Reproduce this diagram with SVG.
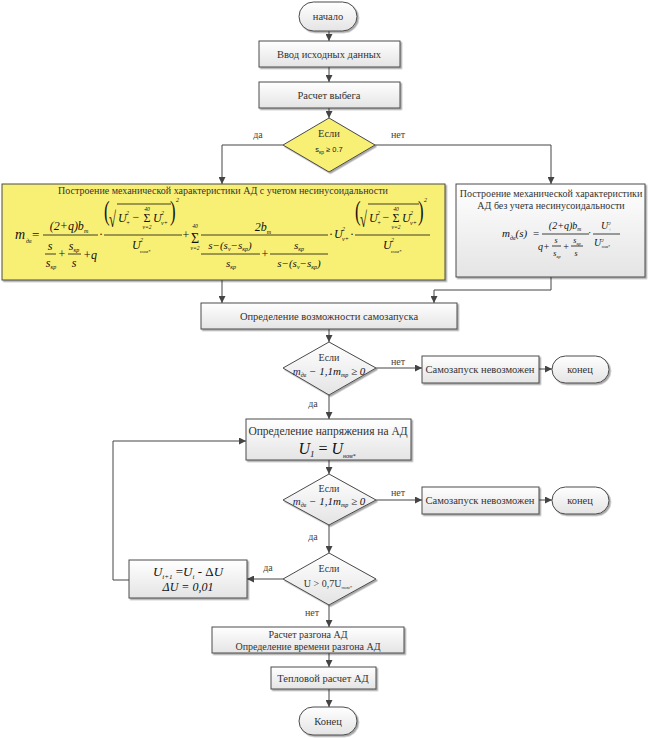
<svg xmlns="http://www.w3.org/2000/svg" width="648" height="738" viewBox="0 0 648 738" font-size="10.5">
<defs>
<linearGradient id="g" x1="0" y1="0" x2="0" y2="1"><stop offset="0" stop-color="#ffffff"/><stop offset="1" stop-color="#e4e4e4"/></linearGradient>
<filter id="sh" x="-10%" y="-10%" width="130%" height="140%"><feDropShadow dx="1.5" dy="1.5" stdDeviation="0.7" flood-color="#000" flood-opacity="0.35"/></filter>
<marker id="ar" viewBox="0 0 8 8" refX="8" refY="4" markerWidth="7" markerHeight="7" markerUnits="userSpaceOnUse" orient="auto"><path d="M0,0 L8,4 L0,8 z" fill="#444"/></marker>
<style>
.b{fill:url(#g);stroke:#4a4a4a;stroke-width:1;filter:url(#sh)}
.y{fill:#f8ef74;stroke:#4a4a4a;stroke-width:1;filter:url(#sh)}
.t{font-family:"Liberation Serif","DejaVu Serif",serif;fill:#333;text-anchor:middle}
.l{font-family:"Liberation Serif","DejaVu Serif",serif;fill:#444;text-anchor:middle}
.m{font-family:"Liberation Serif","DejaVu Serif",serif;font-style:italic;fill:#111}
.r{font-family:"Liberation Serif","DejaVu Serif",serif;fill:#111}
.c{text-anchor:middle}
.bar{stroke:#111;stroke-width:0.8}
.cn{fill:none;stroke:#444;stroke-width:1}
</style>
</defs>

<g id="connectors">
<path class="cn" d="M329,31 V41" marker-end="url(#ar)"/>
<path class="cn" d="M329,67 V82" marker-end="url(#ar)"/>
<path class="cn" d="M329,108 V118" marker-end="url(#ar)"/>
<path class="cn" d="M283,145 H222 V184" marker-end="url(#ar)"/>
<path class="cn" d="M375,145 H551 V184" marker-end="url(#ar)"/>
<path class="cn" d="M222,280 V303" marker-end="url(#ar)"/>
<path class="cn" d="M551,277 V290 H434 V303" marker-end="url(#ar)"/>
<path class="cn" d="M329,329 V342" marker-end="url(#ar)"/>
<path class="cn" d="M376,368 H422" marker-end="url(#ar)"/>
<path class="cn" d="M539,369 H552" marker-end="url(#ar)"/>
<path class="cn" d="M329,395 V419" marker-end="url(#ar)"/>
<path class="cn" d="M329,460 V474" marker-end="url(#ar)"/>
<path class="cn" d="M376,500 H422" marker-end="url(#ar)"/>
<path class="cn" d="M539,500 H552" marker-end="url(#ar)"/>
<path class="cn" d="M329,525 V553" marker-end="url(#ar)"/>
<path class="cn" d="M283,579 H247" marker-end="url(#ar)"/>
<path class="cn" d="M129,580 H113 V441 H246" marker-end="url(#ar)"/>
<path class="cn" d="M329,605 V627" marker-end="url(#ar)"/>
<path class="cn" d="M329,653 V667" marker-end="url(#ar)"/>
<path class="cn" d="M329,689 V707" marker-end="url(#ar)"/>
<text class="l" font-size="10" x="258" y="138">да</text>
<text class="l" font-size="10" x="398" y="138">нет</text>
<text class="l" font-size="10" x="398" y="365">нет</text>
<text class="l" font-size="10" x="313" y="407">да</text>
<text class="l" font-size="10" x="398" y="496">нет</text>
<text class="l" font-size="10" x="313" y="540">да</text>
<text class="l" font-size="10" x="268" y="571">да</text>
<text class="l" font-size="10" x="312" y="616">нет</text>
</g>

<g id="start"><rect class="b" x="299" y="2" width="58" height="29" rx="14.5"/><text class="t" x="328" y="20">начало</text></g>
<g id="input"><rect class="b" x="259" y="41" width="141" height="26"/><text class="t" x="329" y="58">Ввод исходных данных</text></g>
<g id="runout"><rect class="b" x="259" y="82" width="141" height="26"/><text class="t" x="329" y="99">Расчет выбега</text></g>
<g id="dec1"><polygon class="y" points="329,118 375,145 329,172 283,145"/><text class="t" x="329" y="137">Если</text>
<text x="329" y="152" font-family="Liberation Sans, Arial, sans-serif" font-size="7.5" fill="#222" text-anchor="middle">s<tspan font-size="5" dy="1.5">кр</tspan><tspan dy="-1.5"> ≥ 0.7</tspan></text></g>

<g id="withharm">
<rect class="y" x="2" y="184" width="443" height="96"/>
<text class="t" x="223" y="194" font-size="10">Построение механической характеристики АД с учетом несинусоидальности</text>
<!-- fraction 1 -->
<text class="m" x="15" y="239" font-size="14">m</text><text class="m" font-size="6" x="26" y="243">дв</text>
<text class="r" x="32" y="239" font-size="13">=</text>
<text class="m c" x="69" y="230" font-size="12">(2+q)b<tspan font-size="6" dy="2.5">m</tspan></text>
<line class="bar" x1="43" y1="235" x2="98" y2="235"/>
<text class="m c" x="50" y="250" font-size="12">s</text><line class="bar" x1="45" y1="254" x2="56" y2="254"/><text class="m c" x="51" y="267" font-size="12">s<tspan font-size="6" dy="2">кр</tspan></text>
<text class="r c" x="62" y="258" font-size="12">+</text>
<text class="m c" x="74" y="250" font-size="12">s<tspan font-size="6" dy="2">кр</tspan></text><line class="bar" x1="68" y1="254" x2="81" y2="254"/><text class="m c" x="74" y="267" font-size="12">s</text>
<text class="m" x="83" y="259" font-size="12">+q</text>
<text class="r" x="99" y="238" font-size="12">·</text>
<!-- fraction 2 -->
<text class="r" transform="translate(104,220) scale(0.6,1)" font-size="28">(</text>
<text class="r" transform="translate(109,227) scale(0.85,1.45)" font-size="15">√</text>
<line class="bar" x1="117" y1="204" x2="171" y2="204"/>
<text class="m" x="118" y="222" font-size="12">U</text><text class="m" font-size="6" x="126" y="215">2</text><text class="m" font-size="6" x="126" y="225">+</text>
<text class="r c" x="136" y="221" font-size="12">−</text>
<text class="m c" font-size="5.5" x="147" y="211">40</text><text class="r c" x="147" y="222" font-size="12">Σ</text><text class="m c" font-size="5.5" x="147" y="229">ν=2</text>
<text class="m" x="153" y="222" font-size="12">U</text><text class="m" font-size="6" x="161" y="215">2</text><text class="m" font-size="6" x="161" y="225">ν+</text>
<text class="r" transform="translate(170,220) scale(0.6,1)" font-size="28">)</text>
<text class="m" font-size="6" x="176" y="202">2</text>
<line class="bar" x1="104" y1="235" x2="182" y2="235"/>
<text class="m" x="132" y="249" font-size="12">U</text><text class="m" font-size="6" x="140" y="242">2</text><text class="m" x="140" y="253" font-size="5">ном*</text>
<text class="r c" x="186" y="239" font-size="12">+</text>
<text class="m c" font-size="5.5" x="195" y="228">40</text><text class="r c" x="195" y="243" font-size="14">Σ</text><text class="m c" font-size="5.5" x="195" y="250">ν=2</text>
<!-- fraction 3 -->
<text class="m c" x="263" y="231" font-size="12">2b<tspan font-size="6" dy="2.5">m</tspan></text>
<line class="bar" x1="201" y1="235" x2="328" y2="235"/>
<text class="m c" x="230" y="249" font-size="11">s−(s<tspan font-size="6" dy="2">ν</tspan><tspan dy="-2">−s</tspan><tspan font-size="6" dy="2">кр</tspan><tspan dy="-2">)</tspan></text>
<line class="bar" x1="201" y1="254" x2="260" y2="254"/>
<text class="m c" x="231" y="267" font-size="11">s<tspan font-size="6" dy="2">кр</tspan></text>
<text class="r c" x="265" y="258" font-size="12">+</text>
<text class="m c" x="299" y="249" font-size="11">s<tspan font-size="6" dy="2">кр</tspan></text>
<line class="bar" x1="270" y1="254" x2="328" y2="254"/>
<text class="m c" x="299" y="267" font-size="11">s−(s<tspan font-size="6" dy="2">ν</tspan><tspan dy="-2">−s</tspan><tspan font-size="6" dy="2">кр</tspan><tspan dy="-2">)</tspan></text>
<text class="r" x="329" y="238" font-size="12">·</text>
<text class="m" x="334" y="238" font-size="12">U</text><text class="m" font-size="6" x="342" y="231">2</text><text class="m" font-size="6" x="342" y="241">ν+</text>
<text class="r" x="350" y="238" font-size="12">·</text>
<!-- fraction 4 -->
<text class="r" transform="translate(355,220) scale(0.6,1)" font-size="28">(</text>
<text class="r" transform="translate(360,227) scale(0.85,1.45)" font-size="15">√</text>
<line class="bar" x1="368" y1="204" x2="419" y2="204"/>
<text class="m" x="369" y="222" font-size="12">U</text><text class="m" font-size="6" x="377" y="215">2</text><text class="m" font-size="6" x="377" y="225">+</text>
<text class="r c" x="386" y="221" font-size="12">−</text>
<text class="m c" font-size="5.5" x="396" y="211">40</text><text class="r c" x="396" y="222" font-size="12">Σ</text><text class="m c" font-size="5.5" x="396" y="229">ν=2</text>
<text class="m" x="402" y="222" font-size="12">U</text><text class="m" font-size="6" x="410" y="215">2</text><text class="m" font-size="6" x="410" y="225">ν+</text>
<text class="r" transform="translate(418,220) scale(0.6,1)" font-size="28">)</text>
<text class="m" font-size="6" x="424" y="202">2</text>
<line class="bar" x1="355" y1="235" x2="430" y2="235"/>
<text class="m" x="383" y="249" font-size="12">U</text><text class="m" font-size="6" x="391" y="242">2</text><text class="m" x="391" y="253" font-size="5">ном*</text>
</g>

<g id="noharm">
<rect class="b" x="456" y="184" width="189" height="93"/>
<text class="t" x="551" y="197" font-size="10">Построение механической характеристики</text>
<text class="t" x="551" y="209" font-size="10">АД без учета несинусоидальности</text>
<text class="m" x="502" y="237" font-size="11">m<tspan font-size="6" dy="2.5">дв</tspan><tspan dy="-2.5">(s)</tspan></text>
<text class="r" x="533" y="237" font-size="11">=</text>
<text class="m c" x="565" y="229" font-size="10">(2+q)b<tspan font-size="5.5" dy="2">m</tspan></text>
<line class="bar" x1="542" y1="234" x2="589" y2="234"/>
<text class="m" x="538" y="250" font-size="10">q+</text>
<text class="m c" x="556" y="243" font-size="8">s</text><line class="bar" x1="552" y1="246" x2="561" y2="246"/><text class="m c" x="557" y="256" font-size="8">s<tspan font-size="4.5" dy="1.5">кр</tspan></text>
<text class="r c" x="566" y="250" font-size="10">+</text>
<text class="m c" x="577" y="243" font-size="8">s<tspan font-size="4.5" dy="1.5">кр</tspan></text><line class="bar" x1="571" y1="246" x2="583" y2="246"/><text class="m c" x="576" y="256" font-size="8">s</text>
<text class="r" x="588" y="236" font-size="10">·</text>
<text class="m" x="601" y="229" font-size="10">U<tspan font-size="5" dy="-4">2</tspan><tspan font-size="5" dx="-2.5" dy="6">+</tspan></text>
<line class="bar" x1="593" y1="234" x2="620" y2="234"/>
<text class="m" x="594" y="246" font-size="10">U<tspan font-size="5" dy="-4">2</tspan><tspan font-size="4" dx="-2" dy="6">ном*</tspan></text>
</g>

<g id="selfstart"><rect class="b" x="201" y="303" width="256" height="26"/><text class="t" x="329" y="320">Определение возможности самозапуска</text></g>

<g id="dec2"><polygon class="b" points="329,342 376,368 329,395 283,368"/><text class="t" x="329" y="361" font-size="10">Если</text>
<text class="m c" x="329" y="375" font-size="11"><tspan fill="#1a2a6a">m</tspan><tspan font-size="6" dy="2">дв</tspan><tspan dy="-2"> − 1,1m</tspan><tspan font-size="6" dy="2">тр</tspan><tspan dy="-2"> ≥ 0</tspan></text></g>
<g id="fail1"><rect class="b" x="422" y="356" width="117" height="27"/><text class="t" x="480" y="373">Самозапуск невозможен</text></g>
<g id="end1"><rect class="b" x="552" y="356" width="57" height="27" rx="13.5"/><text class="t" x="580" y="373">конец</text></g>

<g id="voltage"><rect class="b" x="246" y="419" width="165" height="41"/><text class="t" x="328" y="435" font-size="11.5">Определение напряжения на АД</text>
<text class="m c" x="327" y="454" font-size="16" fill="#1a1a40">U<tspan font-size="9" dy="3">1</tspan><tspan dy="-3" font-style="normal"> = </tspan>U<tspan font-size="6" dy="4">ном*</tspan></text></g>

<g id="dec3"><polygon class="b" points="329,474 376,500 329,525 283,500"/><text class="t" x="329" y="492" font-size="10">Если</text>
<text class="m c" x="329" y="505" font-size="11"><tspan fill="#1a2a6a">m</tspan><tspan font-size="6" dy="2">дв</tspan><tspan dy="-2"> − 1,1m</tspan><tspan font-size="6" dy="2">тр</tspan><tspan dy="-2"> ≥ 0</tspan></text></g>
<g id="fail2"><rect class="b" x="422" y="487" width="117" height="27"/><text class="t" x="480" y="504">Самозапуск невозможен</text></g>
<g id="end2"><rect class="b" x="552" y="487" width="57" height="27" rx="13.5"/><text class="t" x="580" y="504">конец</text></g>

<g id="dec4"><polygon class="b" points="329,553 376,579 329,605 283,579"/><text class="t" x="329" y="572" font-size="10">Если</text>
<text class="t" x="328" y="587" font-size="10">U &gt; 0,7U<tspan font-size="5" dy="1.5">ном*</tspan></text></g>

<g id="step"><rect class="b" x="129" y="560" width="118" height="38"/>
<text class="m c" x="188" y="576" font-size="13" fill="#1a1a40">U<tspan font-size="7" dy="2.5">i+1</tspan><tspan dy="-2.5" font-style="normal"> =</tspan>U<tspan font-size="7" dy="2.5">i</tspan><tspan dy="-2.5" font-style="normal"> - Δ</tspan>U</text>
<text class="m c" x="188" y="591" font-size="12" fill="#1a1a40">ΔU = 0,01</text></g>

<g id="accel"><rect class="b" x="212" y="627" width="192" height="26"/><text class="t" x="308" y="638" font-size="10">Расчет разгона АД</text><text class="t" x="308" y="650" font-size="10">Определение времени разгона АД</text></g>
<g id="thermal"><rect class="b" x="271" y="667" width="105" height="22"/><text class="t" x="323" y="682">Тепловой расчет АД</text></g>
<g id="finish"><rect class="b" x="299" y="707" width="58" height="28" rx="14"/><text class="t" x="328" y="725">Конец</text></g>
</svg>
